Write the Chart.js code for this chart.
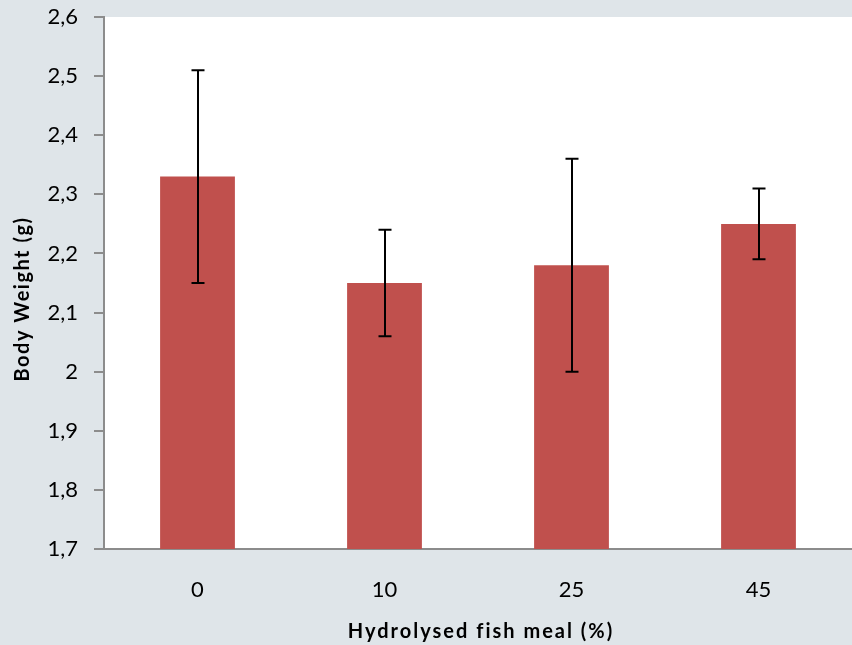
<!DOCTYPE html>
<html>
<head>
<meta charset="utf-8">
<script src="https://cdn.jsdelivr.net/npm/chart.js@4.4.0/dist/chart.umd.min.js"></script>
<style>
  body { margin: 0; background: #dfe5e9; }
  #wrap { width: 852px; height: 645px; }
</style>
</head>
<body>
<div id="wrap"><canvas id="bwChart" width="852" height="645"></canvas></div>
<script>
// Data
const categories = ['0', '10', '25', '45'];
const bodyWeight = [2.33, 2.15, 2.18, 2.25];
const errLow = [2.15, 2.06, 2.00, 2.19];
const errHigh = [2.51, 2.24, 2.36, 2.31];
const yTitle = 'Body Weight (g)';
const xTitle = 'Hydrolysed fish meal (%)';

const axisColor = '#8c8c8c';
const fontFamily = 'Lato, "Liberation Sans", sans-serif';

// gray page + white plot area
const backgroundPlugin = {
    id: 'bg',
    beforeDraw(chart) {
        const { ctx, chartArea } = chart;
        ctx.save();
        ctx.fillStyle = '#dfe5e9';
        ctx.fillRect(0, 0, chart.width, chart.height);
        ctx.fillStyle = '#ffffff';
        ctx.fillRect(chartArea.left, chartArea.top, chartArea.right - chartArea.left, chartArea.bottom - chartArea.top);
        ctx.restore();
    }
};

// error bars drawn through the y scale
const errorBarPlugin = {
    id: 'errorBars',
    afterDatasetsDraw(chart) {
        const { ctx } = chart;
        const yScale = chart.scales.y;
        const meta = chart.getDatasetMeta(0);
        ctx.save();
        ctx.strokeStyle = '#000';
        ctx.lineWidth = 2;
        meta.data.forEach((bar, i) => {
            const x = Math.round(bar.x);
            const yLo = yScale.getPixelForValue(errLow[i]);
            const yHi = yScale.getPixelForValue(errHigh[i]);
            ctx.beginPath();
            ctx.moveTo(x, yLo);
            ctx.lineTo(x, yHi);
            ctx.moveTo(x - 6.5, yLo);
            ctx.lineTo(x + 6.5, yLo);
            ctx.moveTo(x - 6.5, yHi);
            ctx.lineTo(x + 6.5, yHi);
            ctx.stroke();
        });
        ctx.restore();
    }
};

// axis titles (spaced out like the reference)
const titlesPlugin = {
    id: 'axisTitles',
    afterDraw(chart) {
        const { ctx, chartArea } = chart;
        ctx.save();
        ctx.font = 'bold 20px ' + fontFamily;
        ctx.fillStyle = '#000';
        ctx.textAlign = 'center';
        ctx.textBaseline = 'middle';
        ctx.letterSpacing = '2px';
        ctx.fillText(xTitle, (chartArea.left + chartArea.right) / 2 + 3, 632);
        ctx.letterSpacing = '1.5px';
        ctx.translate(23, 299);
        ctx.rotate(-Math.PI / 2);
        ctx.fillText(yTitle, 0, 0);
        ctx.restore();
    }
};

new Chart(document.getElementById('bwChart'), {
    type: 'bar',
    data: {
        labels: categories,
        datasets: [{
            data: bodyWeight,
            backgroundColor: '#c0504d',
            borderWidth: 0,
            barPercentage: 0.4,
            categoryPercentage: 1.0
        }]
    },
    options: {
        responsive: false,
        animation: false,
        layout: { padding: { top: 17, right: 0, left: 0, bottom: 0 } },
        plugins: {
            legend: { display: false },
            tooltip: { enabled: false }
        },
        scales: {
            x: {
                grid: { display: false },
                border: { display: true, color: axisColor, width: 2 },
                ticks: {
                    color: '#000',
                    padding: 20,
                    font: { family: fontFamily, size: 22 }
                },
                afterFit(scale) {
                    scale.height = 96;
                    scale.paddingLeft = 0;
                    scale.paddingRight = 0;
                }
            },
            y: {
                min: 1.7,
                max: 2.6,
                grid: {
                    display: true,
                    drawOnChartArea: false,
                    drawTicks: true,
                    tickLength: 10,
                    color: axisColor,
                    lineWidth: 2
                },
                border: { display: true, color: axisColor, width: 2 },
                ticks: {
                    stepSize: 0.1,
                    color: '#000',
                    padding: 16,
                    font: { family: fontFamily, size: 22 },
                    callback: (v) => String(Number(v.toFixed(1))).replace('.', ',')
                },
                afterFit(scale) {
                    scale.width = 104;
                    scale.paddingTop = 0;
                    scale.paddingBottom = 0;
                }
            }
        }
    },
    plugins: [backgroundPlugin, errorBarPlugin, titlesPlugin]
});
</script>
</body>
</html>
